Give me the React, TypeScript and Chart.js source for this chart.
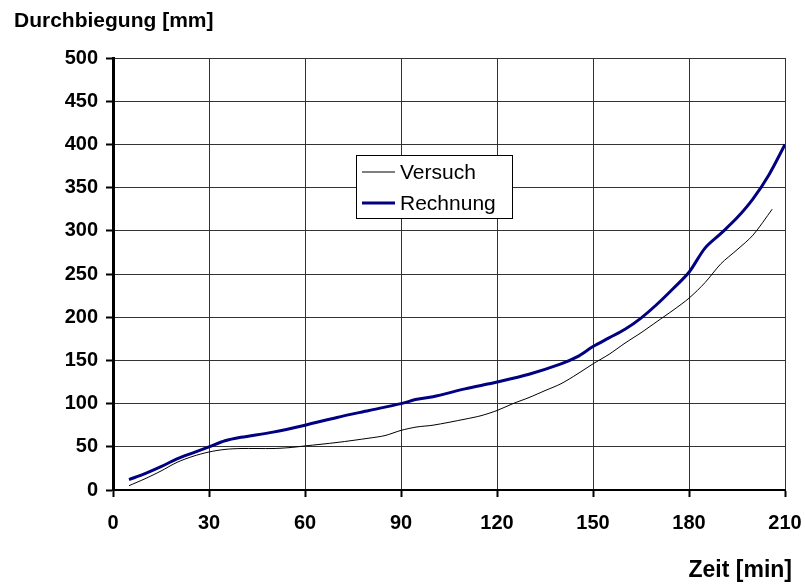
import React, { useEffect, useRef } from "react";
import { Chart, registerables } from "chart.js";

Chart.register(...registerables);

const versuchX = [5, 10, 15, 20, 25, 30, 35, 40, 50, 55, 60, 70, 80, 85, 90, 95, 100, 110, 115, 120, 125, 130, 135, 140, 145, 150, 155, 160, 165, 170, 175, 180, 185, 190, 195, 200, 206];
const versuchY = [5, 13, 22, 32, 39, 44, 47, 48, 48, 49, 51, 55, 60, 63, 69, 73, 75, 82, 86, 92, 100, 107, 115, 123, 134, 146, 157, 170, 182, 195, 208, 222, 240, 262, 278, 295, 325];

const rechnungX = [5, 10, 15, 20, 25, 30, 35, 40, 50, 60, 70, 80, 90, 95, 100, 110, 120, 130, 140, 145, 150, 155, 160, 165, 170, 175, 180, 185, 190, 195, 200, 205, 210];
const rechnungY = [12, 19, 27, 36, 43, 50, 57, 61, 67, 75, 84, 92, 100, 105, 108, 117, 125, 134, 146, 154, 166, 176, 186, 199, 215, 233, 252, 280, 297, 315, 337, 365, 400];

const seriesNames = ["Versuch", "Rechnung"];
const seriesColors = ["#000000", "#000080"];
const xTitle = "Zeit [min]";
const yTitle = "Durchbiegung [mm]";

const FONT = "'Liberation Sans', Arial, sans-serif";

const overlayPlugin = {
  id: "overlay",
  afterDraw(chart: any) {
    const ctx = chart.ctx;
    ctx.save();
    ctx.fillStyle = "#000";
    ctx.font = `bold 21px ${FONT}`;
    ctx.textBaseline = "alphabetic";
    ctx.textAlign = "left";
    ctx.fillText(yTitle, 14, 27);
    ctx.font = `bold 23px ${FONT}`;
    ctx.textAlign = "right";
    ctx.fillText(xTitle, 792, 577);
    // legend box
    const bx = 356, by = 155, bw = 156, bh = 63;
    ctx.fillStyle = "#fff";
    ctx.fillRect(bx, by, bw, bh);
    ctx.strokeStyle = "#000";
    ctx.lineWidth = 1;
    ctx.strokeRect(bx + 0.5, by + 0.5, bw, bh);
    ctx.font = `21px ${FONT}`;
    ctx.textAlign = "left";
    ctx.textBaseline = "middle";
    const rows = [172, 203];
    seriesNames.forEach((n, i) => {
      ctx.strokeStyle = seriesColors[i];
      ctx.lineWidth = i === 0 ? 1 : 3;
      ctx.beginPath();
      ctx.moveTo(362, rows[i]);
      ctx.lineTo(395, rows[i]);
      ctx.stroke();
      ctx.fillStyle = "#000";
      ctx.fillText(n, 400, rows[i] + 1);
    });
    ctx.restore();
  },
};

export default function App() {
  const ref = useRef<HTMLCanvasElement | null>(null);
  useEffect(() => {
    if (!ref.current) return;
    const chart = new Chart(ref.current, {
      type: "line",
      data: {
        datasets: [
          {
            label: seriesNames[0],
            data: versuchX.map((x, i) => ({ x, y: versuchY[i] })),
            borderColor: seriesColors[0],
            borderWidth: 1,
            pointRadius: 0,
            tension: 0.3,
          },
          {
            label: seriesNames[1],
            data: rechnungX.map((x, i) => ({ x, y: rechnungY[i] })),
            borderColor: seriesColors[1],
            borderWidth: 3,
            pointRadius: 0,
            tension: 0.3,
          },
        ],
      },
      options: {
        responsive: false,
        animation: false,
        layout: { padding: { left: 0, top: 58, right: 20, bottom: 34 } },
        plugins: { legend: { display: false }, tooltip: { enabled: false } },
        scales: {
          x: {
            type: "linear",
            min: 0,
            max: 210,
            afterFit: (s: any) => { s.height = 60; s.paddingRight = 0; s.paddingLeft = 0; },
            ticks: {
              stepSize: 30,
              color: "#000",
              font: { family: FONT, size: 20, weight: "bold" },
              padding: 14,
              maxRotation: 0,
            },
            grid: { color: "#333", lineWidth: 1, tickLength: 7, tickColor: "#000", tickWidth: 2 },
            border: { color: "#000", width: 2 },
          },
          y: {
            type: "linear",
            min: 0,
            max: 500,
            afterFit: (s: any) => { s.width = 113; s.paddingTop = 0; s.paddingBottom = 0; },
            ticks: {
              stepSize: 50,
              color: "#000",
              font: { family: FONT, size: 20, weight: "bold" },
              padding: 8,
            },
            grid: { color: "#333", lineWidth: 1, tickLength: 7, tickColor: "#000", tickWidth: 2 },
            border: { color: "#000", width: 3 },
          },
        },
      },
      plugins: [overlayPlugin],
    } as any);
    return () => chart.destroy();
  }, []);
  return (
    <div style={{ position: "fixed", left: 0, top: 0, width: 805, height: 584, background: "#fff" }}>
      <canvas ref={ref} width={805} height={584} style={{ display: "block" }} />
    </div>
  );
}
